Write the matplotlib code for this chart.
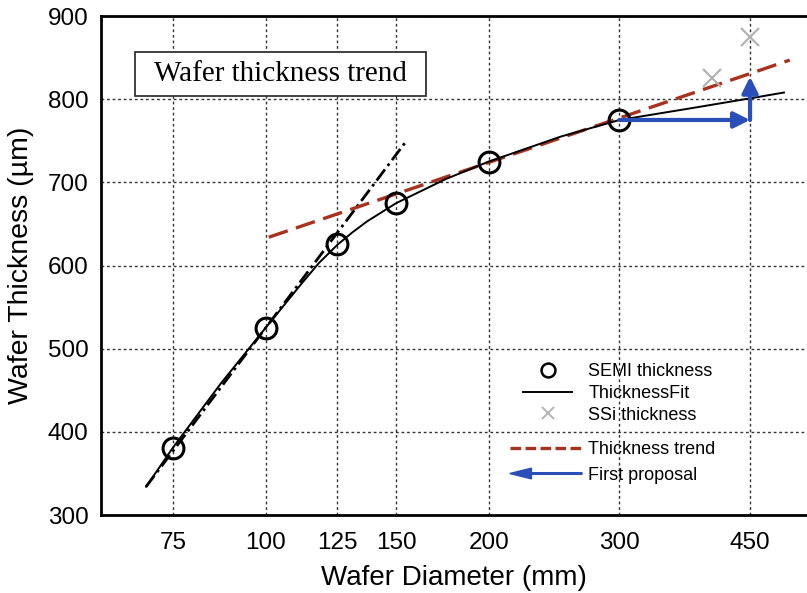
import matplotlib
matplotlib.use("Agg")
import matplotlib.pyplot as plt
import matplotlib.patches as mpatches
from matplotlib.lines import Line2D
from matplotlib.legend_handler import HandlerPatch

# ---------------- data ----------------
semi_diam = [75, 100, 125, 150, 200, 300]
semi_thick = [381, 525, 626, 675, 725, 775]

fit_diam = [69, 75, 87, 100, 112, 118, 125, 131, 137, 150, 175, 200, 250, 300, 380, 450, 500]
fit_thick = [334, 381, 458, 525, 579, 603, 625, 640, 653, 675, 704, 725, 755, 775, 790, 801, 808]

ssi_diam = [400, 450]
ssi_thick = [825, 875]

early_diam = [69, 154]
early_thick = [334, 747]

trend_diam = [101, 509]
trend_thick = [634, 847]

proposal_diam = [300, 450, 450]
proposal_thick = [775, 775, 827]

xticks = [75, 100, 125, 150, 200, 300, 450]
yticks = [300, 400, 500, 600, 700, 800, 900]

# ---------------- style ----------------
plt.rcParams['font.family'] = ['Liberation Sans', 'DejaVu Sans']
RED = '#a8321e'
BLUE = '#2b4fb8'
GRAY = '#b3b3b3'

fig = plt.figure(figsize=(8.07, 5.93), dpi=100)
ax = fig.add_axes([0.1252, 0.1315, 0.8748, 0.8415])

ax.set_xscale('log')
ax.set_xlim(60, 537)
ax.set_ylim(300, 900)
ax.set_xticks(xticks)
ax.set_xticklabels([str(t) for t in xticks])
ax.xaxis.set_minor_locator(matplotlib.ticker.NullLocator())
ax.set_yticks(yticks)
ax.tick_params(axis='both', length=0, labelsize=17.5)
ax.tick_params(axis='x', pad=12)
ax.tick_params(axis='y', pad=9)
ax.grid(True, linestyle=(0, (2, 2)), color='#333333', linewidth=1.0)
ax.set_axisbelow(True)
for s in ['left', 'bottom', 'top']:
    ax.spines[s].set_linewidth(2.0)
ax.spines['right'].set_visible(False)

ax.set_xlabel('Wafer Diameter (mm)', fontsize=20, labelpad=8)
ax.set_ylabel('Wafer Thickness (µm)', fontsize=20.5, labelpad=10)

# lines
ax.plot(early_diam, early_thick, color='black', lw=2.0,
        linestyle=(0, (5, 1.6, 1, 1.6)), zorder=3)
ax.plot(trend_diam, trend_thick, color=RED, lw=2.4,
        linestyle=(0, (6, 2.6)), zorder=3)
ax.plot(fit_diam, fit_thick, color='black', lw=1.4, zorder=4)
ax.plot(semi_diam, semi_thick, linestyle='none', marker='o', markersize=15,
        markerfacecolor='none', markeredgecolor='black', markeredgewidth=2.2, zorder=5)
ax.plot(ssi_diam, ssi_thick, linestyle='none', marker='x', markersize=13,
        color=GRAY, markeredgewidth=1.6, zorder=5)

# proposal arrows
for i in range(len(proposal_diam) - 1):
    ax.annotate('', xy=(proposal_diam[i + 1], proposal_thick[i + 1]),
                xytext=(proposal_diam[i], proposal_thick[i]),
                arrowprops=dict(arrowstyle='-|>', color=BLUE, lw=3,
                                mutation_scale=24, shrinkA=0, shrinkB=0),
                zorder=6)

# title box
ax.add_patch(mpatches.Rectangle((0.048, 0.840), 0.412, 0.088, transform=ax.transAxes,
                                facecolor='white', edgecolor='#333333', lw=1.3, zorder=7))
ax.text(0.254, 0.884, 'Wafer thickness trend', transform=ax.transAxes,
        ha='center', va='center', fontsize=21, family='Liberation Serif', zorder=8)

# legends
h1 = [Line2D([], [], linestyle='none', marker='o', markersize=10, markerfacecolor='none',
             markeredgecolor='black', markeredgewidth=1.8),
      Line2D([], [], color='black', lw=1.4),
      Line2D([], [], linestyle='none', marker='x', markersize=9, color=GRAY,
             markeredgewidth=1.4)]
leg1 = ax.legend(h1, ['SEMI thickness', 'ThicknessFit', 'SSi thickness'],
                 loc='upper left', bbox_to_anchor=(0.598, 0.304), frameon=False,
                 fontsize=13, handlelength=2.7, handletextpad=0.9,
                 labelspacing=0.26, borderpad=0, borderaxespad=0)
ax.add_artist(leg1)


def make_left_arrow(legend, orig_handle, xdescent, ydescent, width, height, fontsize):
    return mpatches.FancyArrow(-xdescent + width, -ydescent + 0.5 * height, -width, 0,
                               width=1.2, head_width=0.85 * height,
                               head_length=0.3 * width, length_includes_head=True,
                               color=BLUE)


h2 = [Line2D([], [], color=RED, lw=2.4, linestyle=(0, (3.2, 1.3))),
      mpatches.FancyArrow(0, 0, 1, 0, color=BLUE)]
leg2 = ax.legend(h2, ['Thickness trend', 'First proposal'],
                 loc='upper left', bbox_to_anchor=(0.579, 0.148), frameon=False,
                 fontsize=13, handlelength=4.0, handletextpad=0.33,
                 labelspacing=0.48, borderpad=0, borderaxespad=0,
                 handler_map={mpatches.FancyArrow: HandlerPatch(patch_func=make_left_arrow)})

fig.savefig('out.png', dpi=100)
